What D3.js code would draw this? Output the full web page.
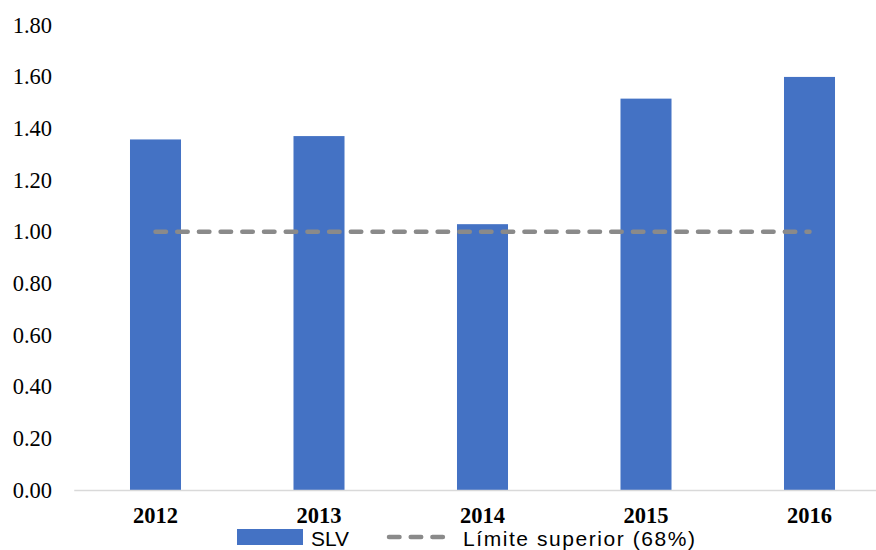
<!DOCTYPE html>
<html>
<head>
<meta charset="utf-8">
<script src="https://cdn.jsdelivr.net/npm/d3@7"></script>
<style>
  html, body { margin: 0; padding: 0; background: #fff; }
  svg { display: block; }
</style>
</head>
<body>
<svg id="chart" width="876" height="550"></svg>
<script>
const years = ["2012", "2013", "2014", "2015", "2016"];
const slv = [1.357, 1.370, 1.029, 1.515, 1.599];
const limite = [1.00, 1.00, 1.00, 1.00, 1.00];
const yTicks = [0, 0.2, 0.4, 0.6, 0.8, 1.0, 1.2, 1.4, 1.6, 1.8];
const legendLabels = ["SLV", "Límite superior (68%)"];

const svg = d3.select("#chart");

const x = d3.scaleBand().domain(years).range([73.75, 891.25]).paddingInner(0.688).paddingOuter(0.344);
const y = d3.scaleLinear().domain([0, 1.8]).range([490, 25]);

// y tick labels
svg.append("g").selectAll("text").data(yTicks).join("text")
  .attr("x", 52).attr("y", d => y(d))
  .attr("text-anchor", "end").attr("dominant-baseline", "central")
  .style("font-family", "'Liberation Serif', 'Times New Roman', serif")
  .attr("font-size", 22.5).attr("fill", "#000")
  .text(d3.format(".2f"));

// bars
svg.append("g").selectAll("rect").data(slv).join("rect")
  .attr("x", (d, i) => x(years[i]))
  .attr("width", x.bandwidth())
  .attr("y", d => y(d))
  .attr("height", d => y(0) - y(d))
  .attr("fill", "#4472C4");

// x axis
const xAxis = svg.append("g").attr("transform", `translate(0,${y(0)})`)
  .call(d3.axisBottom(x).tickSize(0).tickPadding(0));
xAxis.select(".domain").attr("stroke", "#d9d9d9").attr("stroke-width", 1.6);
xAxis.selectAll(".tick text")
  .attr("y", 33).attr("dy", null)
  .style("font-family", "'Liberation Serif', 'Times New Roman', serif")
  .attr("font-weight", "bold").attr("font-size", 22.5).attr("fill", "#000");

// dashed limit line
const line = d3.line().x((d, i) => x(years[i]) + x.bandwidth() / 2).y(d => y(d));
svg.append("path").datum(limite)
  .attr("d", line).attr("fill", "none")
  .attr("stroke", "#8a8a8a").attr("stroke-width", 4.5)
  .attr("stroke-linecap", "round").attr("stroke-dasharray", "10.5 11.2");

// legend
const lg = svg.append("g");
lg.append("rect").attr("x", 237).attr("y", 529).attr("width", 66).attr("height", 16).attr("fill", "#4472C4");
lg.append("text").attr("x", 311).attr("y", 546)
  .style("font-family", "'Liberation Sans', Arial, sans-serif").attr("font-size", 21).attr("fill", "#000")
  .attr("textLength", 38).attr("lengthAdjust", "spacingAndGlyphs")
  .text(legendLabels[0]);
lg.append("line").attr("x1", 389).attr("x2", 453).attr("y1", 537).attr("y2", 537)
  .attr("stroke", "#8a8a8a").attr("stroke-width", 4.5)
  .attr("stroke-linecap", "round").attr("stroke-dasharray", "10.5 11.2");
lg.append("text").attr("x", 463).attr("y", 546)
  .style("font-family", "'Liberation Sans', Arial, sans-serif").attr("font-size", 21).attr("fill", "#000")
  .attr("textLength", 232).attr("lengthAdjust", "spacing")
  .text(legendLabels[1]);
</script>
</body>
</html>
